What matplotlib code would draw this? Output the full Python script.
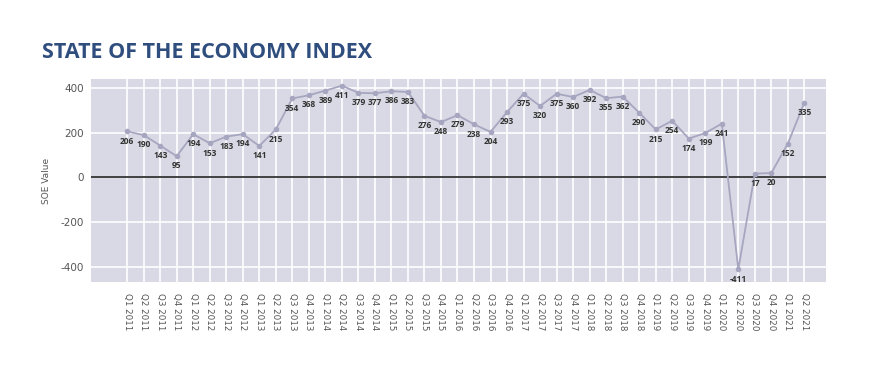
import matplotlib
matplotlib.use("Agg")
from matplotlib import pyplot as plt

quarters = [f"Q{q} {y}" for y in range(2011, 2022) for q in range(1, 5)][:42]
soe_values = [206, 190, 143, 95, 194, 153, 183, 194, 141, 215,
              354, 368, 389, 411, 379, 377, 386, 383, 276, 248,
              279, 238, 204, 293, 375, 320, 375, 360, 392, 355,
              362, 290, 215, 254, 174, 199, 241, -411, 17, 20,
              152, 335]
y_ticks = [-400, -200, 0, 200, 400]

fig = plt.figure(figsize=(8.73, 3.89), dpi=100)
ax = fig.add_axes([0.104, 0.275, 0.842, 0.522])
ax.set_facecolor("#d9d9e5")

x = list(range(len(soe_values)))
ax.plot(x, soe_values, color="#a6a6c0", lw=1.3, marker="o", ms=3, zorder=3)
ax.axhline(0, color="#222222", lw=1.2, zorder=2)

for xi, v in zip(x, soe_values):
    ax.annotate(str(v), (xi, v), xytext=(0, -7), textcoords="offset points",
                ha="center", va="center", fontsize=6, fontweight="bold",
                family="Open Sans", color="#333333", zorder=4)

ax.set_xlim(-2.2, 42.3)
ax.set_ylim(-468, 441)
ax.set_xticks(x)
ax.set_xticklabels(quarters, rotation=-90, fontsize=6.3, color="#555555")
ax.set_yticks(y_ticks)
ax.set_yticklabels([str(t) for t in y_ticks], fontsize=7.5, color="#555555")
ax.tick_params(axis="x", length=0, pad=8)
ax.tick_params(axis="y", length=0, pad=5)
ax.grid(True, color="white", lw=1.2, zorder=1)
ax.set_axisbelow(True)
for s in ax.spines.values():
    s.set_visible(False)
ax.set_ylabel("SOE Value", fontsize=6.5, color="#555555", labelpad=7)

fig.text(0.048, 0.865, "STATE OF THE ECONOMY INDEX", fontsize=15.5, fontweight="bold",
         color="#2f4e7e", ha="left", va="center", family="Open Sans")

plt.savefig("out.png", dpi=100)
plt.close(fig)
